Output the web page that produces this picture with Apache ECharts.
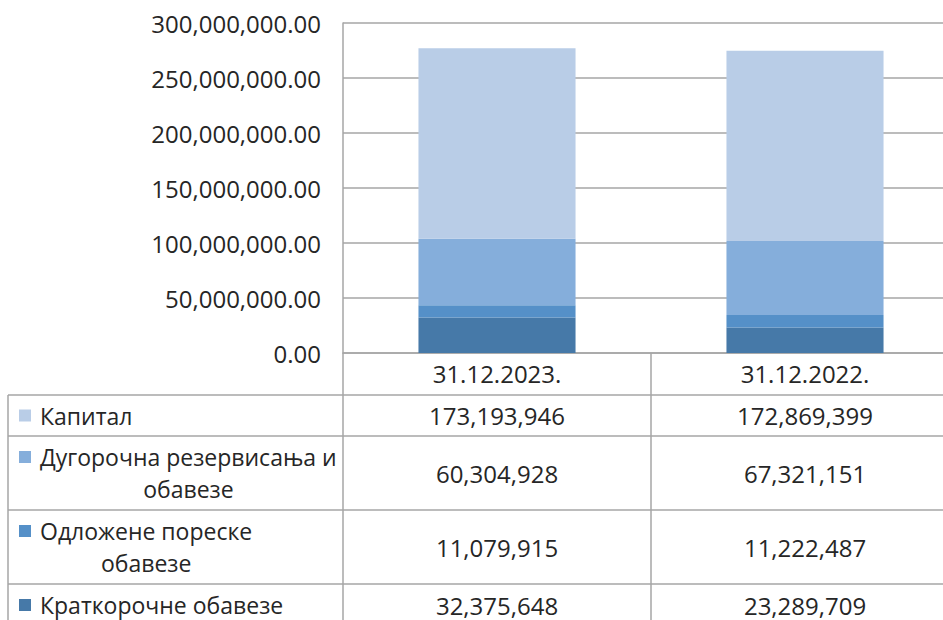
<!DOCTYPE html>
<html>
<head>
<meta charset="utf-8">
<script src="https://cdn.jsdelivr.net/npm/echarts@6/dist/echarts.min.js"></script>
<style>
html, body { margin: 0; padding: 0; background: #fff; }
#chart { width: 943px; height: 620px; }
</style>
</head>
<body>
<div id="chart"></div>
<script>
// columns of the data table / bar categories
var categories = ['31.12.2023.', '31.12.2022.'];
// stack order: bottom -> top
var seriesNames = ['Краткорочне обавезе', 'Одложене пореске\nобавезе', 'Дугорочна резервисања и\nобавезе', 'Капитал'];
var kratkorocne = [32375648, 23289709];
var odlozene = [11079915, 11222487];
var dugorocna = [60304928, 67321151];
var kapital = [173193946, 172869399];
var seriesData = [kratkorocne, odlozene, dugorocna, kapital];
var colors = ['#4679A8', '#5590C8', '#85AEDB', '#B9CDE7'];
var yMin = 0, yMax = 300000000, yStep = 50000000;

var FONT = '"Open Sans", sans-serif';
var FS = 23;     // words
var NFS = 24;    // numbers
var TXT = '#262626';
var LINE = '#A6A6A6';

var chart = echarts.init(document.getElementById('chart'), null, { renderer: 'svg' });

function fmt(v, d) {
    return v.toLocaleString('en-US', { minimumFractionDigits: d, maximumFractionDigits: d });
}

var series = [];
for (var i = 0; i < seriesNames.length; i++) {
    series.push({
        name: seriesNames[i],
        type: 'bar',
        stack: 'total',
        barWidth: '51%',
        data: seriesData[i],
        itemStyle: { color: colors[i] },
        emphasis: { disabled: true }
    });
}

// plot runs past the right edge of the picture (cropped like the original)
option = {
    animation: false,
    textStyle: { fontFamily: FONT },
    grid: { left: 343, top: 23, width: 616, height: 330, containLabel: false, outerBoundsMode: 'none' },
    xAxis: {
        type: 'category',
        data: categories,
        axisLine: { lineStyle: { color: LINE, width: 1.5 } },
        axisTick: { show: true, length: 267, lineStyle: { color: LINE, width: 1.5 } },
        axisLabel: { color: TXT, fontSize: NFS, fontFamily: FONT, margin: 7, lineHeight: 26 }
    },
    yAxis: {
        type: 'value',
        min: yMin,
        max: yMax,
        interval: yStep,
        axisLine: { show: true, lineStyle: { color: LINE, width: 1.5 } },
        axisTick: { show: false },
        splitLine: { lineStyle: { color: LINE, width: 1.5 } },
        axisLabel: {
            color: TXT, fontSize: NFS, fontFamily: FONT, margin: 22,
            formatter: function (v) { return fmt(v, 2); }
        }
    },
    series: series
};
chart.setOption(option);

// data table under the plot
var rowTops = [395, 436, 510, 584];
var rowBottoms = [436, 510, 584, 626];
var tableLeft = 8, tableRight = 943;

var ctx = document.createElement('canvas').getContext('2d');
ctx.font = FS + 'px ' + FONT;

var g = [];
for (var r = 0; r < rowTops.length; r++) {
    g.push({
        type: 'line', silent: true,
        shape: { x1: tableLeft, y1: rowTops[r], x2: tableRight, y2: rowTops[r] },
        style: { stroke: LINE, lineWidth: 1.5 }
    });
}
g.push({
    type: 'line', silent: true,
    shape: { x1: tableLeft, y1: rowTops[0], x2: tableLeft, y2: 620 },
    style: { stroke: LINE, lineWidth: 1.5 }
});

for (var r = 0; r < rowTops.length; r++) {
    var s = seriesNames.length - 1 - r; // table rows go top -> bottom of stack
    var mid = (rowTops[r] + rowBottoms[r]) / 2;
    var lines = seriesNames[s].split('\n');
    var lh = 32;
    var firstY = mid - (lines.length - 1) * lh / 2;
    var w = 0;
    lines.forEach(function (l) { w = Math.max(w, ctx.measureText(l).width); });
    g.push({
        type: 'rect', silent: true,
        shape: { x: 19, y: firstY - 6, width: 12, height: 12 },
        style: { fill: colors[s] }
    });
    g.push({
        type: 'text', silent: true,
        x: 40 + w / 2, y: mid,
        style: {
            text: seriesNames[s], fill: TXT, font: FS + 'px ' + FONT,
            align: 'center', verticalAlign: 'middle', lineHeight: lh
        }
    });
    for (var c = 0; c < categories.length; c++) {
        var px = chart.convertToPixel({ xAxisIndex: 0 }, categories[c]);
        g.push({
            type: 'text', silent: true,
            x: px, y: mid,
            style: {
                text: fmt(seriesData[s][c], 0), fill: TXT, font: NFS + 'px ' + FONT,
                align: 'center', verticalAlign: 'middle'
            }
        });
    }
}
chart.setOption({ graphic: g });
</script>
</body>
</html>
